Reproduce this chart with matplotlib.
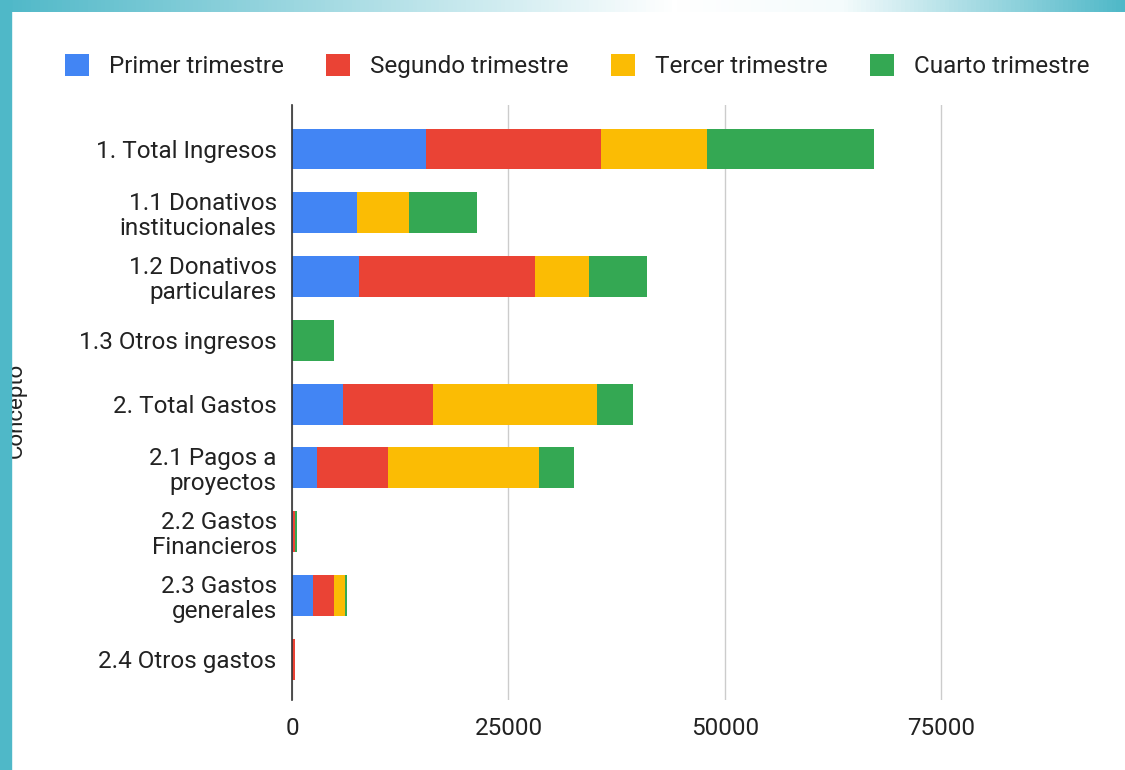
import numpy as np
import matplotlib
matplotlib.use("Agg")
import matplotlib.pyplot as plt
from matplotlib.patches import Rectangle
from matplotlib.colors import LinearSegmentedColormap

plt.rcParams['font.family'] = ['Roboto', 'DejaVu Sans']

# datos
conceptos = ["1. Total Ingresos", "1.1 Donativos\ninstitucionales",
             "1.2 Donativos\nparticulares", "1.3 Otros ingresos",
             "2. Total Gastos", "2.1 Pagos a\nproyectos",
             "2.2 Gastos\nFinancieros", "2.3 Gastos\ngenerales",
             "2.4 Otros gastos"]
series = ["Primer trimestre", "Segundo trimestre", "Tercer trimestre", "Cuarto trimestre"]
primer = [15500, 7500, 7700, 0, 5900, 2900, 100, 2400, 0]
segundo = [20200, 0, 20400, 0, 10400, 8200, 300, 2450, 300]
tercer = [12200, 6000, 6200, 0, 18900, 17400, 0, 1250, 0]
cuarto = [19300, 7900, 6700, 4900, 4200, 4100, 150, 200, 0]
colores = ["#4285F4", "#EA4335", "#FBBC04", "#34A853"]
xticks = [0, 25000, 50000, 75000]

fig = plt.figure(figsize=(11.25, 7.7), dpi=100)
ax = fig.add_axes([292/1125, 1-700/770, 1-292/1125, (700-105)/770])

y = np.arange(len(conceptos))
left = np.zeros(len(conceptos))
for vals, c, name in zip([primer, segundo, tercer, cuarto], colores, series):
    ax.barh(y, vals, left=left, height=0.64, color=c, label=name)
    left += np.array(vals)

ax.set_ylim(8.64, -0.69)
ax.set_xlim(0, 96200)
ax.set_xticks(xticks)
ax.set_xticklabels([str(t) for t in xticks])
ax.set_yticks(y)
ax.set_yticklabels(conceptos, linespacing=1.1)
ax.tick_params(axis='both', length=0, labelsize=17.5, colors='#222222')
ax.tick_params(axis='y', pad=11)
ax.tick_params(axis='x', pad=12)
ax.grid(axis='x', color='#cccccc', linewidth=1)
ax.set_axisbelow(True)
for s in ['top', 'right', 'bottom']:
    ax.spines[s].set_visible(False)
ax.spines['left'].set_color('#333333')
ax.spines['left'].set_linewidth(1.2)
ax.spines['left'].set_zorder(5)

fig.text(6/1125, 1-410/770, "Concepto", rotation=90, fontsize=16,
         color='#222222', ha='left', va='center')

# leyenda arriba
leg = fig.legend(loc='center', bbox_to_anchor=(577/1125, 1-66/770), ncol=4,
                 frameon=False, fontsize=17.5, handlelength=1.0, handleheight=1.0,
                 handletextpad=0.8, columnspacing=1.75, labelcolor='#222222')

# borde decorativo
fig.patches.append(Rectangle((0, 0), 11/1125, 1, transform=fig.transFigure,
                             color='#4fb8c8', zorder=10))
cmap = LinearSegmentedColormap.from_list(
    'g', [(0, '#4fb8c8'), (0.6, '#ffffff'), (0.75, '#f4fbfc'), (1, '#4fb8c8')])
gax = fig.add_axes([0, 1-12/770, 1, 12/770])
gax.imshow(np.linspace(0, 1, 256)[None, :], aspect='auto', cmap=cmap)
gax.axis('off')

fig.savefig("out.png", dpi=100)
